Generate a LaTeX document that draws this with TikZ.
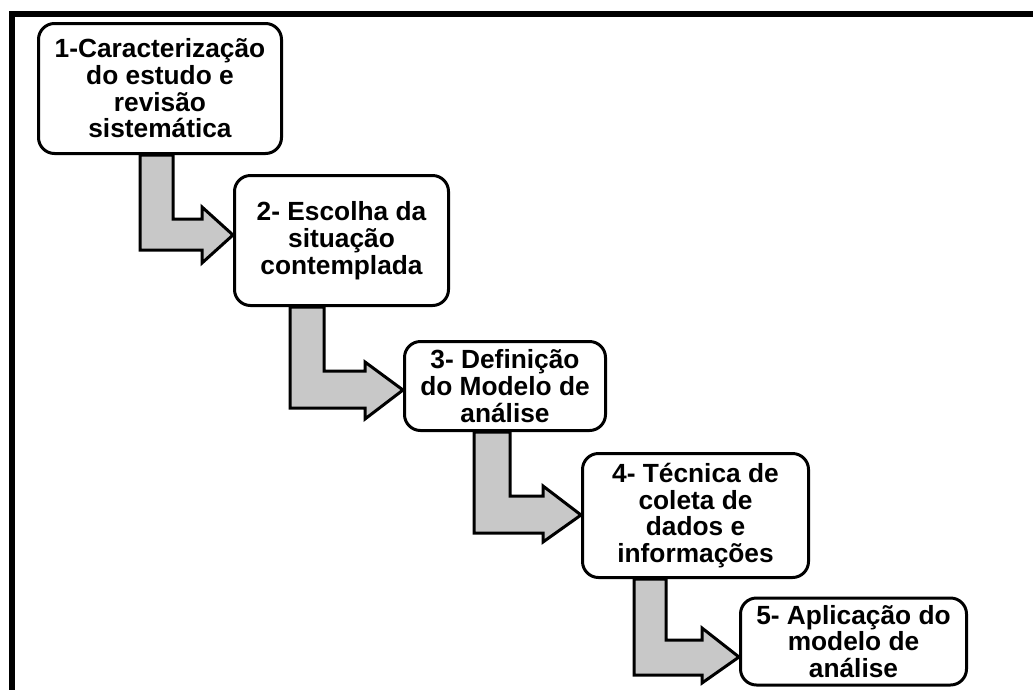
\documentclass[tikz,border=0pt]{standalone}
\usepackage{fontspec}
\setmainfont{Liberation Sans}
\usetikzlibrary{backgrounds}
\definecolor{arrgray}{HTML}{C8C8C8}
\begin{document}
\begin{tikzpicture}[x=1pt,y=-1pt,
  stepbox/.style={draw=black, line width=3pt, rounded corners=16pt, fill=white,
    align=center, inner sep=0pt, font=\fontsize{26.3}{26.7}\selectfont\bfseries},
  blockarrow/.style={draw=black, line width=3pt, fill=arrgray, line join=miter},
  frame/.style={draw=black, line width=6pt}]
\clip (0,0) rectangle (1033,689);
% frame (top and left sides visible)
\coordinate (fa) at (11.5,700);
\coordinate (fb) at (11.5,14);
\coordinate (fc) at (1045,14);
\draw[frame] (fa) -- (fb) -- (fc);
% boxes
\node[stepbox, minimum width=243pt, minimum height=130pt] (b1) at (160,88.5)
  {1-Caracterização\\do estudo e\\revisão\\sistemática};
\node[stepbox, minimum width=214pt, minimum height=130pt] (b2) at (341.5,240.5)
  {2- Escolha da\\situação\\contemplada};
\node[stepbox, minimum width=201pt, minimum height=89pt] (b3) at (505,386)
  {3- Definição\\do Modelo de\\análise};
\node[stepbox, minimum width=226pt, minimum height=124pt] (b4) at (695.5,515.5)
  {4- Técnica de\\coleta de\\dados e\\informações};
\node[stepbox, minimum width=226pt, minimum height=87pt] (b5) at (853.5,641.5)
  {5- Aplicação do\\modelo de\\análise};
% block arrows (behind boxes)
\begin{scope}[on background layer]
\draw[blockarrow] (140,0 |- b1.south) -- (140,250) -- (202,250) -- (202,263)
  -- (b2.west |- 0,235) -- (202,207) -- (202,219) -- (173,219) -- (173,0 |- b1.south) -- cycle;
\draw[blockarrow] (290,0 |- b2.south) -- (290,408) -- (365,408) -- (365,419)
  -- (b3.west |- 0,390) -- (365,362) -- (365,371) -- (324,371) -- (324,0 |- b2.south) -- cycle;
\draw[blockarrow] (474,0 |- b3.south) -- (474,533) -- (543,533) -- (543,542)
  -- (b4.west |- 0,515) -- (543,486) -- (543,496) -- (510,496) -- (510,0 |- b3.south) -- cycle;
\draw[blockarrow] (634,0 |- b4.south) -- (634,675) -- (702,675) -- (702,683)
  -- (b5.west |- 0,657) -- (702,628) -- (702,640) -- (666,640) -- (666,0 |- b4.south) -- cycle;
\end{scope}
\end{tikzpicture}
\end{document}
